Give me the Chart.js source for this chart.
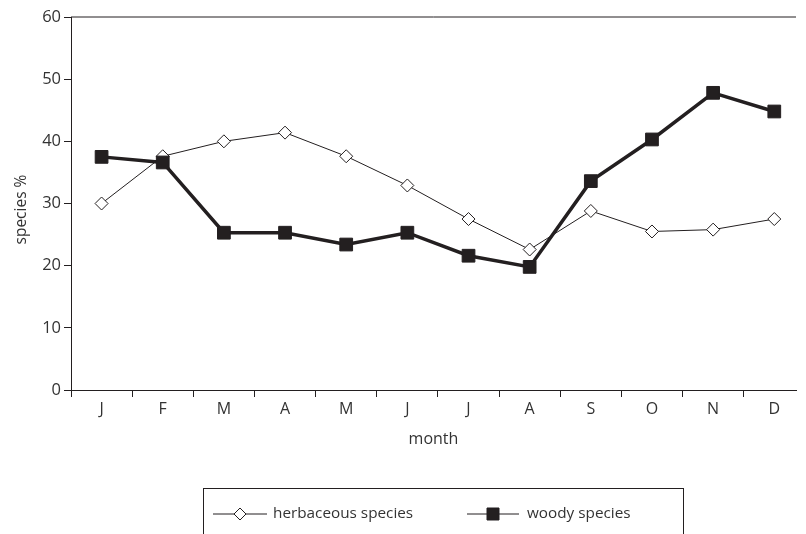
<!DOCTYPE html>
<html>
<head>
<meta charset="utf-8">
<script src="https://cdn.jsdelivr.net/npm/chart.js@4/dist/chart.umd.min.js"></script>
<style>
    html, body { margin: 0; padding: 0; background: #fff; overflow: hidden; }
    #wrap { position: relative; width: 806px; height: 534px; }
</style>
</head>
<body>
<div id="wrap"><canvas id="speciesChart"></canvas></div>
<script>
const months = ['J', 'F', 'M', 'A', 'M', 'J', 'J', 'A', 'S', 'O', 'N', 'D'];
const herbaceous = [30, 37.6, 40, 41.4, 37.6, 32.9, 27.5, 22.6, 28.8, 25.5, 25.8, 27.5];
const woody = [37.5, 36.6, 25.3, 25.3, 23.4, 25.3, 21.6, 19.8, 33.6, 40.3, 47.8, 44.8];
const yTicks = [0, 10, 20, 30, 40, 50, 60];
const seriesNames = ['herbaceous species', 'woody species'];

// the printed plot is cut off by the page edge part way through December
const xMin = -0.5;
const xMax = 11.355;

const ink = '#231f20';
const textInk = '#333333';
const fontFamily = '"Open Sans", "Noto Sans", sans-serif';

const toPoints = (values) => values.map((v, i) => ({x: i, y: v}));

// top border of the plot frame
const frameTop =
{
    id: 'frameTop',
    afterDraw: (chart) =>
    {
        const {ctx, chartArea} = chart;
        ctx.save();
        ctx.strokeStyle = ink;
        ctx.lineWidth = 1;
        ctx.beginPath();
        ctx.moveTo(chartArea.left, chartArea.top);
        ctx.lineTo(chartArea.right, chartArea.top);
        ctx.stroke();
        ctx.restore();
    }
};

// boxed legend under the chart, like the printed figure
const boxedLegend =
{
    id: 'boxedLegend',
    afterDraw: (chart) =>
    {
        const ctx = chart.ctx;
        const boxLeft = 203.5;
        const boxTop = 488.5;
        const boxWidth = 480;
        const rowY = 514;
        const items = [
            {lineFrom: 213, lineTo: 267, textX: 273},
            {lineFrom: 467, lineTo: 519, textX: 527}
        ];

        ctx.save();
        ctx.strokeStyle = ink;
        ctx.lineWidth = 1;
        ctx.strokeRect(boxLeft, boxTop, boxWidth, 80);

        chart.data.datasets.forEach((ds, i) =>
        {
            const item = items[i];
            const mid = (item.lineFrom + item.lineTo) / 2;
            ctx.strokeStyle = ink;
            ctx.lineWidth = 1;
            ctx.beginPath();
            ctx.moveTo(item.lineFrom, rowY);
            ctx.lineTo(item.lineTo, rowY);
            ctx.stroke();

            ctx.fillStyle = ds.pointBackgroundColor;
            ctx.strokeStyle = ds.pointBorderColor;
            ctx.lineWidth = ds.pointBorderWidth;
            ctx.beginPath();
            if (ds.pointStyle === 'rectRot')
            {
                const r = 6;
                ctx.moveTo(mid - r, rowY);
                ctx.lineTo(mid, rowY - r);
                ctx.lineTo(mid + r, rowY);
                ctx.lineTo(mid, rowY + r);
                ctx.closePath();
            }
            else
            {
                const s = 6;
                ctx.rect(mid - s, rowY - s, 2 * s, 2 * s);
            }
            ctx.fill();
            ctx.stroke();

            ctx.fillStyle = textInk;
            ctx.font = '15.3px ' + fontFamily;
            ctx.textBaseline = 'middle';
            ctx.textAlign = 'left';
            ctx.fillText(ds.label, item.textX, rowY);
        });
        ctx.restore();
    }
};

// month labels on whole values, tick marks on the half values between months
const isMonth = (value) => Number.isInteger(value);
const monthTickColor = (context) => (context.tick && isMonth(context.tick.value)) ? 'rgba(0,0,0,0)' : ink;

new Chart(document.getElementById('speciesChart'), {
    type: 'line',
    data: {
        datasets: [
            {
                label: seriesNames[0],
                data: toPoints(herbaceous),
                borderColor: ink,
                borderWidth: 1,
                pointStyle: 'rectRot',
                pointRadius: 6.5,
                pointBackgroundColor: '#ffffff',
                pointBorderColor: ink,
                pointBorderWidth: 1,
                tension: 0,
                order: 1
            },
            {
                label: seriesNames[1],
                data: toPoints(woody),
                borderColor: ink,
                borderWidth: 3.5,
                pointStyle: 'rect',
                pointRadius: 9,
                pointBackgroundColor: ink,
                pointBorderColor: ink,
                pointBorderWidth: 1,
                tension: 0,
                order: 0
            }
        ]
    },
    options: {
        responsive: true,
        maintainAspectRatio: false,
        animation: false,
        layout: {
            padding: {left: 8, right: 0, top: 17, bottom: 83}
        },
        plugins: {
            legend: {display: false},
            tooltip: {enabled: false}
        },
        scales: {
            x: {
                type: 'linear',
                min: xMin,
                max: xMax,
                afterFit: (scale) => { scale.height = 61; },
                afterBuildTicks: (scale) =>
                {
                    const ticks = [];
                    for (let i = 0; i < months.length; i++)
                    {
                        ticks.push({value: i - 0.5});
                        ticks.push({value: i});
                    }
                    scale.ticks = ticks.filter(t => t.value <= xMax);
                },
                grid: {
                    drawOnChartArea: false,
                    tickLength: 7,
                    color: monthTickColor,
                    tickColor: monthTickColor
                },
                border: {color: ink, width: 1},
                ticks: {
                    autoSkip: false,
                    maxRotation: 0,
                    padding: 3,
                    color: textInk,
                    font: {family: fontFamily, size: 16},
                    callback: (value) => isMonth(value) ? months[value] : ''
                },
                title: {
                    display: true,
                    text: 'month',
                    color: textInk,
                    padding: {top: 4, bottom: 2},
                    font: {family: fontFamily, size: 16}
                }
            },
            y: {
                min: 0,
                max: 60,
                afterFit: (scale) => { scale.width = 63; },
                afterBuildTicks: (scale) => { scale.ticks = yTicks.map(v => ({value: v})); },
                grid: {
                    drawOnChartArea: false,
                    tickLength: 7,
                    color: ink
                },
                border: {color: ink, width: 1},
                ticks: {
                    padding: 3,
                    color: textInk,
                    font: {family: fontFamily, size: 16.5}
                },
                title: {
                    display: true,
                    text: 'species %   ',
                    color: textInk,
                    font: {family: fontFamily, size: 15.5}
                }
            }
        }
    },
    plugins: [frameTop, boxedLegend]
});
</script>
</body>
</html>
